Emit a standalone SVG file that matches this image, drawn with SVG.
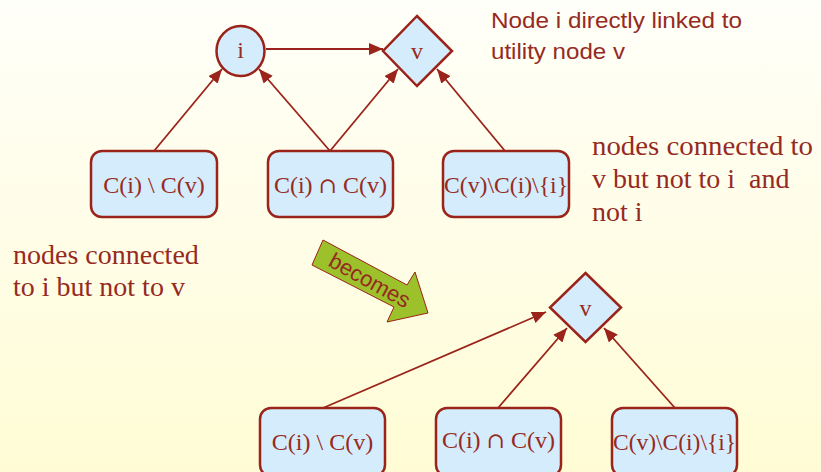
<svg xmlns="http://www.w3.org/2000/svg" width="821" height="472" viewBox="0 0 821 472">
  <defs>
    <linearGradient id="bg" x1="0" y1="0" x2="0" y2="1">
      <stop offset="0" stop-color="#FFFFF9"/>
      <stop offset="1" stop-color="#FFFCD5"/>
    </linearGradient>
    <marker id="arr" markerWidth="14" markerHeight="12" refX="14" refY="6" orient="auto" markerUnits="userSpaceOnUse">
      <path d="M0,0 L14,6 L0,12 z" fill="#9A231A"/>
    </marker>
    <style>
      .node { fill: #D5ECFC; stroke: #9A231A; stroke-width: 2.5; }
      .lbl { font-family: "Liberation Serif", "Times New Roman", serif; font-size: 24px; fill: #962A22; text-anchor: middle; }
      .cap { font-family: "DejaVu Serif", serif; font-size: 22px; }
      .edge { stroke: #9A231A; stroke-width: 1.8; fill: none; marker-end: url(#arr); }
      .note { font-family: "Liberation Serif", "Times New Roman", serif; font-size: 28px; fill: #962A22; }
      .sans { font-family: "Liberation Sans", Arial, sans-serif; font-size: 22px; fill: #962A22; }
    </style>
  </defs>
  <rect x="0" y="0" width="821" height="472" fill="url(#bg)"/>

  <g id="connectors">
    <line class="edge" x1="266" y1="49" x2="383" y2="49"/>
    <line class="edge" x1="154" y1="151" x2="222" y2="69"/>
    <line class="edge" x1="330" y1="151" x2="259" y2="69"/>
    <line class="edge" x1="330" y1="151" x2="398" y2="69"/>
    <line class="edge" x1="505" y1="151" x2="437" y2="69"/>
    <line class="edge" x1="323" y1="408" x2="546" y2="312"/>
    <line class="edge" x1="498" y1="408" x2="567" y2="328"/>
    <line class="edge" x1="675" y1="408" x2="604" y2="328"/>
  </g>

  <g id="node-i">
    <ellipse class="node" cx="240.5" cy="51" rx="24" ry="25"/>
    <text class="lbl" x="240.5" y="58" font-size="22">i</text>
  </g>
  <g id="node-v-top">
    <polygon class="node" points="417,16 452,51 417,86 383,51"/>
    <text class="lbl" x="417" y="59" font-size="22">v</text>
  </g>
  <g id="box-top-1">
    <rect class="node" x="91" y="151" width="126" height="66" rx="11"/>
    <text class="lbl" x="154" y="193">C(i) \ C(v)</text>
  </g>
  <g id="box-top-2">
    <rect class="node" x="268" y="151" width="125" height="66" rx="11"/>
    <text class="lbl" x="330.5" y="193">C(i) <tspan class="cap">∩</tspan> C(v)</text>
  </g>
  <g id="box-top-3">
    <rect class="node" x="443" y="151" width="126" height="66" rx="11"/>
    <text class="lbl" x="506" y="193" textLength="124" lengthAdjust="spacingAndGlyphs">C(v)\C(i)\{i}</text>
  </g>

  <g id="node-v-bottom">
    <polygon class="node" points="585.5,273 621,307.5 585.5,342 550,307.5"/>
    <text class="lbl" x="585.5" y="316" font-size="22">v</text>
  </g>
  <g id="box-bottom-1">
    <rect class="node" x="260" y="408" width="125" height="68" rx="11"/>
    <text class="lbl" x="322.5" y="450">C(i) \ C(v)</text>
  </g>
  <g id="box-bottom-2">
    <rect class="node" x="436" y="408" width="125" height="68" rx="11"/>
    <text class="lbl" x="498.5" y="448">C(i) <tspan class="cap">∩</tspan> C(v)</text>
  </g>
  <g id="box-bottom-3">
    <rect class="node" x="612" y="408" width="125" height="68" rx="11"/>
    <text class="lbl" x="674.5" y="450" textLength="123" lengthAdjust="spacingAndGlyphs">C(v)\C(i)\{i}</text>
  </g>

  <g id="becomes">
    <polygon points="323,240 407,285 415,272 428,313 387,322 394,307 312,265" fill="#9DC12B" stroke="#9A231A" stroke-width="1"/>
    <text class="sans" x="0" y="0" text-anchor="middle" font-size="23" transform="translate(366,287) rotate(29)">becomes</text>
  </g>

  <g id="notes">
    <text class="sans" x="491" y="28" textLength="251" lengthAdjust="spacingAndGlyphs">Node i directly linked to</text>
    <text class="sans" x="491" y="59" textLength="134" lengthAdjust="spacingAndGlyphs">utility node v</text>
    <text class="note" x="592" y="155" textLength="221" lengthAdjust="spacingAndGlyphs">nodes connected to</text>
    <text class="note" x="592" y="188" xml:space="preserve">v but not to i  and</text>
    <text class="note" x="592" y="221">not i</text>
    <text class="note" x="13" y="264">nodes connected</text>
    <text class="note" x="13" y="296">to i but not to v</text>
  </g>
</svg>
